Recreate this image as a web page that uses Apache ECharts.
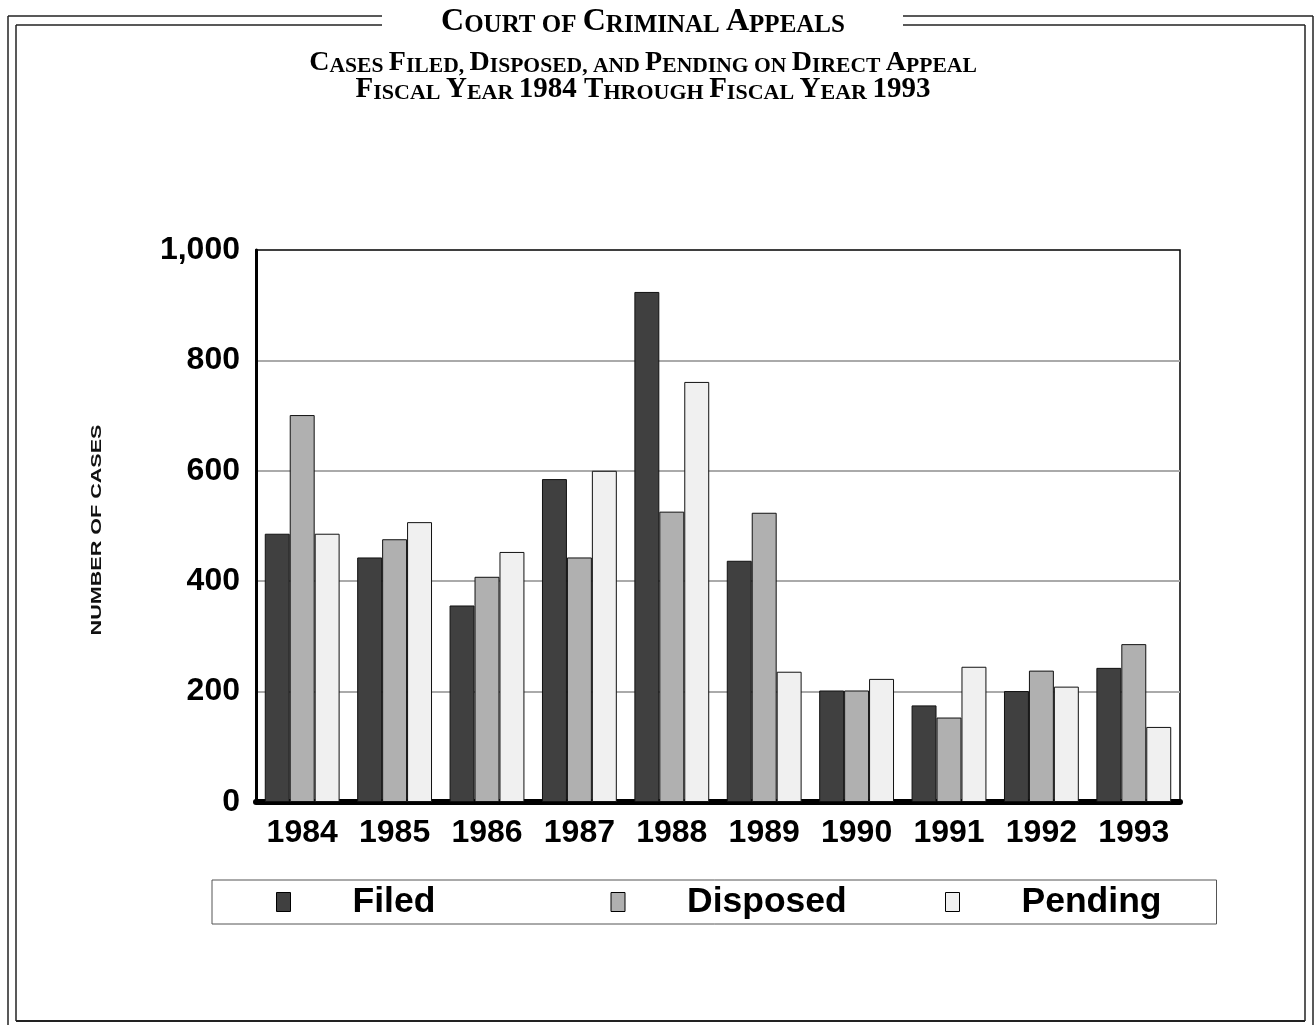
<!DOCTYPE html>
<html>
<head>
<meta charset="utf-8">
<script src="https://cdn.jsdelivr.net/npm/echarts@6/dist/echarts.min.js"></script>
<style>
html,body{margin:0;padding:0;background:#fff;}
#main{width:1315px;height:1025px;}
</style>
</head>
<body>
<div id="main"></div>
<script>
var years = ['1984','1985','1986','1987','1988','1989','1990','1991','1992','1993'];
var filed    = [486, 443, 356, 585, 924, 437, 202, 175, 201, 243];
var disposed = [701, 476, 408, 443, 526, 524, 202, 153, 238, 286];
var pending  = [486, 507, 453, 600, 761, 236, 223, 245, 209, 136];
var seriesNames = ['Filed', 'Disposed', 'Pending'];
var yTicks = [0, 200, 400, 600, 800, 1000];
var yTitle = 'NUMBER OF CASES';

var chart = echarts.init(document.getElementById('main'));
var serif = '"Liberation Serif", "Times New Roman", serif';
var sans = '"Liberation Sans", Arial, sans-serif';

function titleRich(big, small) {
  return {
    a: {fontFamily: serif, fontWeight: 'bold', fontSize: big, color: '#000', verticalAlign: 'bottom', lineHeight: big + 4},
    b: {fontFamily: serif, fontWeight: 'bold', fontSize: small, color: '#000', verticalAlign: 'bottom', lineHeight: big + 4}
  };
}

function seg(x1, y1, x2, y2, w) {
  return {type: 'line', shape: {x1: x1, y1: y1, x2: x2, y2: y2}, style: {stroke: '#222', lineWidth: w || 1.5}, silent: true};
}

var option = {
  backgroundColor: '#fff',
  animation: false,
  title: [
    {
      text: '{a|C}{b|OURT OF }{a|C}{b|RIMINAL }{a|A}{b|PPEALS}',
      left: 643, top: 2, textAlign: 'center', padding: 0,
      textStyle: {rich: titleRich(32, 25)}
    },
    {
      text: '{a|C}{b|ASES }{a|F}{b|ILED, }{a|D}{b|ISPOSED, AND }{a|P}{b|ENDING ON }{a|D}{b|IRECT }{a|A}{b|PPEAL}',
      left: 643, top: 45, textAlign: 'center', padding: 0,
      textStyle: {rich: titleRich(28, 21.6)}
    },
    {
      text: '{a|F}{b|ISCAL }{a|Y}{b|EAR }{a|1984 T}{b|HROUGH }{a|F}{b|ISCAL }{a|Y}{b|EAR }{a|1993}',
      left: 643, top: 71, textAlign: 'center', padding: 0,
      textStyle: {rich: titleRich(29, 22)}
    }
  ],
  graphic: [
    seg(8, 16, 382, 16), seg(903, 16, 1313, 16),
    seg(16, 25, 382, 25), seg(903, 25, 1305, 25),
    seg(8, 16, 8, 1030), seg(1313, 16, 1313, 1030),
    seg(16, 25, 16, 1021), seg(1305, 25, 1305, 1021),
    seg(16, 1021, 1305, 1021, 2),
    {
      type: 'text', x: 97, y: 530, rotation: Math.PI / 2, scaleX: 1.54, scaleY: 1, silent: true,
      style: {text: yTitle, fontFamily: sans, fontWeight: 'bold', fontSize: 14, fill: '#111', align: 'center', verticalAlign: 'middle'}
    }
  ],
  legend: {
    data: seriesNames,
    left: 212, top: 880,
    orient: 'horizontal',
    icon: 'rect',
    itemWidth: 14, itemHeight: 19,
    itemGap: 88,
    padding: [4, 25, 4, 64],
    borderColor: '#555', borderWidth: 1,
    itemStyle: {borderColor: '#000', borderWidth: 1},
    textStyle: {fontFamily: sans, fontWeight: 'bold', fontSize: 35.5, color: '#000', lineHeight: 20, padding: [0, 0, 0, 57], width: 170}
  },
  grid: {
    left: 256, right: 135, top: 250, bottom: 223,
    show: true, borderColor: '#000', borderWidth: 1.5, backgroundColor: 'transparent'
  },
  xAxis: {
    type: 'category',
    data: years,
    axisTick: {show: false},
    axisLine: {show: true, lineStyle: {color: '#000', width: 6, cap: 'round'}},
    axisLabel: {interval: 0, fontFamily: sans, fontWeight: 'bold', fontSize: 32, color: '#000', margin: 15}
  },
  yAxis: {
    type: 'value',
    min: yTicks[0], max: yTicks[yTicks.length - 1], interval: 200,
    axisTick: {show: false},
    axisLine: {show: true, lineStyle: {color: '#000', width: 3}},
    splitLine: {show: true, showMinLine: false, showMaxLine: false, lineStyle: {color: '#aaa', width: 2}},
    axisLabel: {
      fontFamily: sans, fontWeight: 'bold', fontSize: 32, color: '#000', margin: 16,
      formatter: function (v) { return v.toLocaleString('en-US'); }
    }
  },
  series: [
    {name: seriesNames[0], type: 'bar', data: filed, barGap: '0%', barCategoryGap: '19%',
      itemStyle: {color: '#404040', borderColor: '#111', borderWidth: 1}},
    {name: seriesNames[1], type: 'bar', data: disposed, barGap: '0%', barCategoryGap: '19%',
      itemStyle: {color: '#b0b0b0', borderColor: '#111', borderWidth: 1}},
    {name: seriesNames[2], type: 'bar', data: pending, barGap: '0%', barCategoryGap: '19%',
      itemStyle: {color: '#f0f0f0', borderColor: '#111', borderWidth: 1}}
  ]
};
chart.setOption(option);
</script>
</body>
</html>
